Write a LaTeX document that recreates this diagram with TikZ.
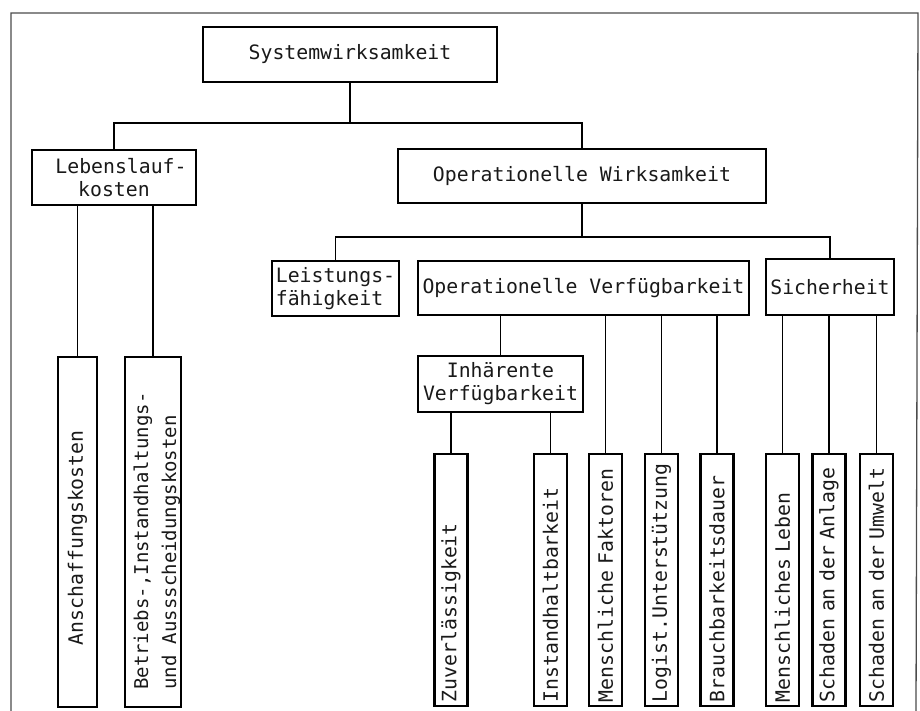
\documentclass[tikz,border=0pt]{standalone}
\usepackage{fontspec}
\newfontfamily\typew{DejaVu Sans Mono}
\begin{document}
\begin{tikzpicture}[x=1pt,y=-1pt,
  txt/.style={font=\typew\fontsize{19.8}{23}\selectfont, text=black!90},
  box/.style={txt, draw, line width=2.6pt, inner sep=0pt, align=center},
  vbox/.style={txt, draw, line width=2.6pt, rotate=90, minimum height=33pt,
    inner xsep=4pt, inner ysep=0pt, text width=244pt, align=left},
  conn/.style={line width=1.8pt},
  framestyle/.style={line width=1.3pt, draw=black!70}]
\useasboundingbox (0,0) rectangle (920,711);
\draw[framestyle] (11,711) -- (11,13) -- (918,13) -- (916,711);

% upper boxes
\node[box, minimum width=294pt, minimum height=55pt] (sys) at (350,54.5) {Systemwirksamkeit};
\node[box, minimum width=164pt, minimum height=55pt] (leb) at (114,177.5) {\hspace*{14pt}Lebenslauf-\\kosten};
\node[box, minimum width=368pt, minimum height=54pt] (ow) at (582,176) {Operationelle Wirksamkeit};
\node[box, minimum width=127pt, minimum height=55pt, align=left] (leist) at (335.5,288.5) {Leistungs-\\fähigkeit};
\node[box, minimum width=331pt, minimum height=54pt] (ov) at (583.5,288) {Operationelle Verfügbarkeit};
\node[box, minimum width=128pt, minimum height=56pt] (sich) at (830,287) {Sicherheit};
\node[box, minimum width=165pt, minimum height=56pt] (inh) at (500.5,384) {Inhärente\\Verfügbarkeit};

% lower left boxes
\node[vbox, minimum height=39pt, inner xsep=62pt, text width=226pt] (ansch) at (77.5,532) {Anschaffungskosten};
\node[draw, line width=2.6pt, minimum width=56pt, minimum height=350pt, inner sep=0pt] (betr) at (153,532) {};
\node[txt, rotate=90, anchor=west, inner sep=0pt, align=left, font=\typew\fontsize{19}{28}\selectfont] (betrt) at (157,690) {Betriebs-,Instandhaltungs-\\und Aussscheidungskosten};

% lower right boxes
\node[vbox] (zuv) at (451,580) {Zuverlässigkeit};
\node[vbox] (inst) at (550.5,580) {Instandhaltbarkeit};
\node[vbox] (mf) at (605.5,580) {Menschliche Faktoren};
\node[vbox] (log) at (661.5,580) {Logist.Unterstützung};
\node[vbox] (brauch) at (717,580) {Brauchbarkeitsdauer};
\node[vbox] (ml) at (782.5,580) {Menschliches Leben};
\node[vbox] (sa) at (829,580) {Schaden an der Anlage};
\node[vbox] (su) at (876.5,580) {Schaden an der Umwelt};

% connectors
\coordinate (b1) at (0,123);
\coordinate (b2) at (0,237);
\draw[conn] (sys.south) -- (sys.south |- b1);
\draw[conn] (leb.north) |- (ow.north |- b1) -- (ow.north);
\draw[conn] (ansch.east) -- (ansch.east |- leb.south);
\draw[conn] (betr.north) -- (betr.north |- leb.south);
\draw[conn] (ow.south) -- (ow.south |- b2);
\draw[conn] (leist.north) |- (sich.north |- b2) -- (sich.north);
\draw[conn] (ov.south -| inh.north) -- (inh.north);
\draw[conn] (zuv.east) -- (zuv.east |- inh.south);
\draw[conn] (inst.east) -- (inst.east |- inh.south);
\draw[conn] (mf.east) -- (mf.east |- ov.south);
\draw[conn] (log.east) -- (log.east |- ov.south);
\draw[conn] (brauch.east) -- (brauch.east |- ov.south);
\draw[conn] (ml.east) -- (ml.east |- sich.south);
\draw[conn] (sa.east) -- (sa.east |- sich.south);
\draw[conn] (su.east) -- (su.east |- sich.south);
\end{tikzpicture}
\end{document}
